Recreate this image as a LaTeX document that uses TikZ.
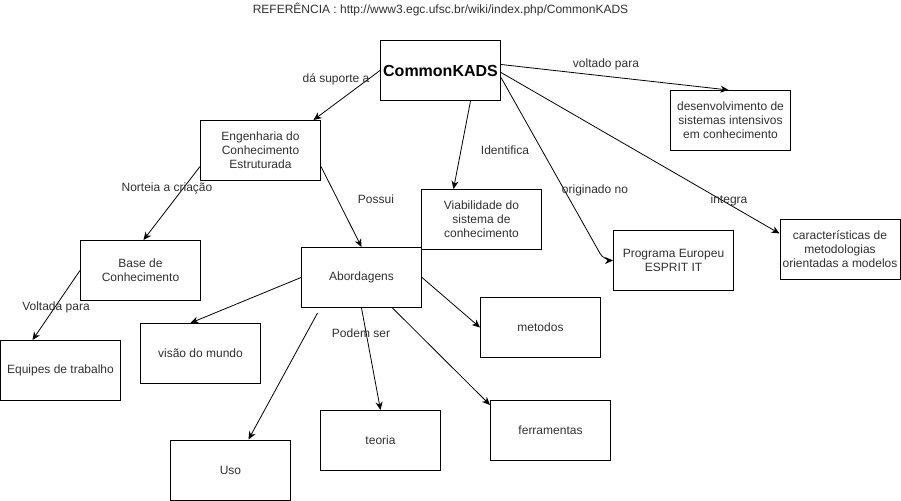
\documentclass[tikz,border=0pt]{standalone}
\usepackage{fontspec}
\setmainfont{Liberation Sans}
\usetikzlibrary{arrows.meta}
\definecolor{txt}{HTML}{303030}
\tikzset{
  box/.style={draw=black, line width=1bp, minimum width=120bp, minimum height=60bp, inner sep=1bp, align=center, text=txt, font=\fontsize{12bp}{14bp}\selectfont},
  lbl/.style={inner sep=0bp, text=txt, font=\fontsize{12bp}{14bp}\selectfont},
  conn/.style={draw=black, line width=0.8bp, -{Stealth[length=8bp,width=7bp,inset=2.5bp]}}
}
\begin{document}
\begin{tikzpicture}[x=1bp,y=-1bp]
\useasboundingbox (0,0) rectangle (901,501);
\fill[white] (0,0) rectangle (901,501);
\node[lbl] (title) at (440.5,10) {REFERÊNCIA : http://www3.egc.ufsc.br/wiki/index.php/CommonKADS};
\node[box, font=\fontsize{16bp}{18bp}\selectfont\bfseries, text=black] (ck) at (440.5,70.5) {CommonKADS};
\node[box] (eng) at (260.5,150.5) {Engenharia do\\Conhecimento\\Estruturada};
\node[box] (via) at (481.5,219.5) {Viabilidade do\\sistema de\\conhecimento};
\node[box] (des) at (730.5,120.5) {desenvolvimento de\\sistemas intensivos\\em conhecimento};
\node[box] (car) at (840,249.5) {características de\\metodologias\\orientadas a modelos};
\node[box] (prog) at (673.5,260.5) {Programa Europeu\\ESPRIT IT};
\node[box] (base) at (140.5,270.5) {Base de\\Conhecimento};
\node[box] (abo) at (361.5,277.5) {Abordagens};
\node[box] (equ) at (60.5,370.5) {Equipes de trabalho};
\node[box] (vis) at (200.5,353.5) {visão do mundo};
\node[box] (uso) at (230.5,470) {Uso};
\node[box] (teo) at (380.5,440.5) {teoria};
\node[box] (met) at (540.5,327.5) {metodos};
\node[box] (fer) at (550.5,430.5) {ferramentas};

\draw[conn] (ck.west) -- ([xshift=53bp]eng.north);
\draw[conn] ([xshift=30bp]ck.south) -- ([xshift=-28bp]via.north);
\draw[conn] ([yshift=6bp]ck.east) -- ([xshift=-2bp]des.north);
\draw[conn] ([yshift=-2bp]ck.east) -- ([yshift=16bp]car.west);
\coordinate (bend) at (604,260.5);
\draw[conn, rounded corners=8bp] ([yshift=-7bp]ck.east) -- (bend) -- (prog.west);
\draw[conn] ([yshift=-16bp]eng.west) -- ([xshift=3bp]base.north);
\draw[conn] ([yshift=-16bp]eng.east) -- (abo.north);
\draw[conn] (base.west) -- ([xshift=-28bp]equ.north);
\draw[conn] (abo.west) -- ([xshift=-10bp]vis.north);
\draw[conn] ([xshift=-44bp,yshift=-5bp]abo.south) -- ([xshift=18bp]uso.north);
\draw[conn] (abo.south) -- (teo.north);
\draw[conn] (abo.east) -- (met.west);
\draw[conn] ([xshift=31bp]abo.south) -- ([yshift=-5bp]fer.north west);

\node[lbl] (l1) at (336,79) {dá suporte a};
\node[lbl] (l2) at (505,150) {Identifica};
\node[lbl] (l3) at (606,64) {voltado para};
\node[lbl] (l4) at (729,200) {integra};
\node[lbl] (l5) at (595,190) {originado no};
\node[lbl] (l6) at (167,188) {Norteia a criação};
\node[lbl] (l7) at (376,199) {Possui};
\node[lbl] (l8) at (56,307) {Voltada para};
\node[lbl] (l9) at (361,333) {Podem ser};
\end{tikzpicture}
\end{document}
